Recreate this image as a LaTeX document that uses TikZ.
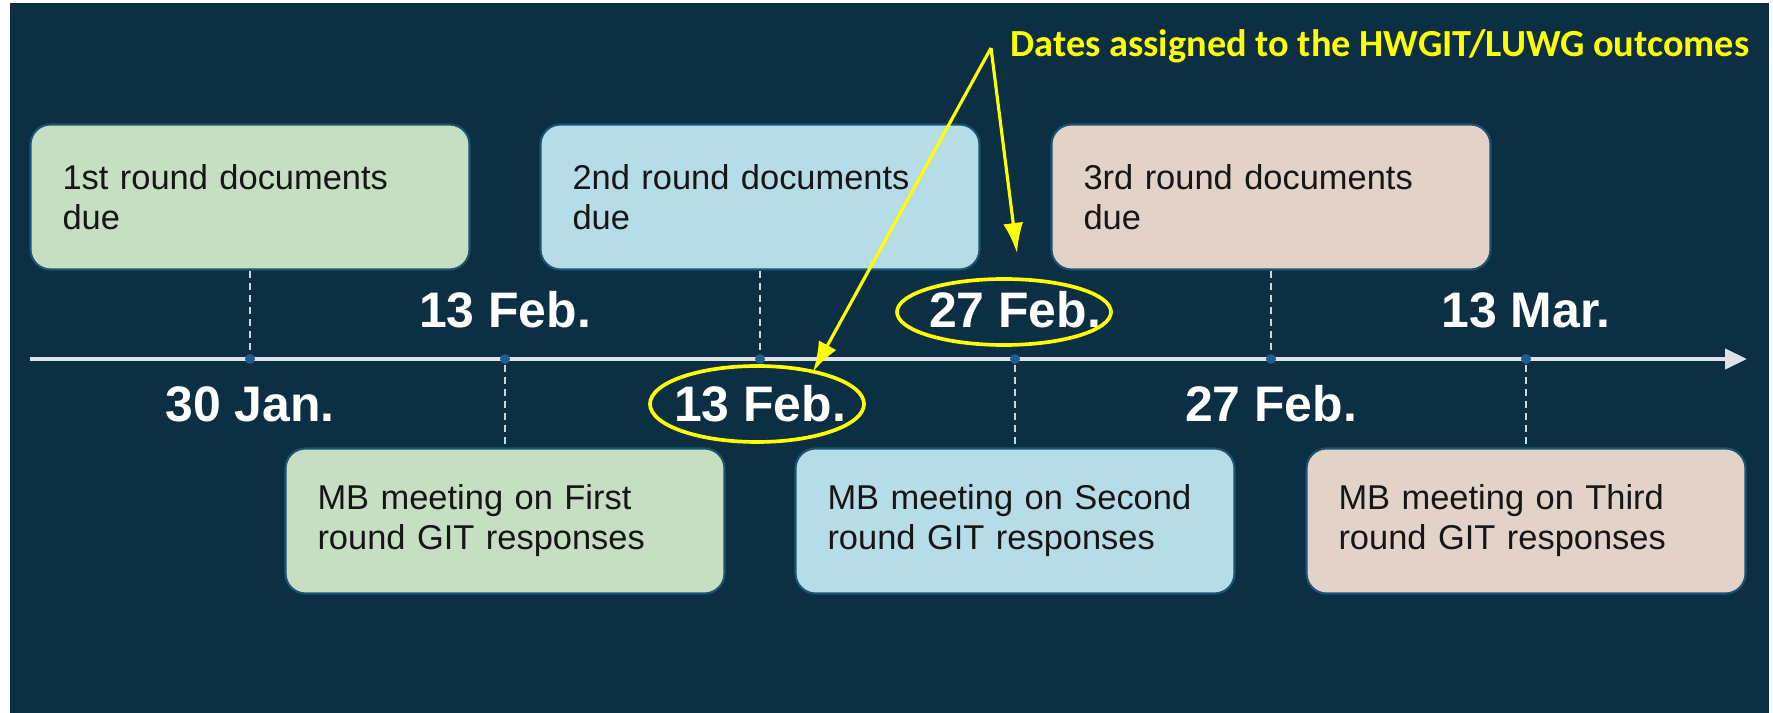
\documentclass[tikz,border=0pt]{standalone}
\usepackage{fontspec}
\setmainfont{Liberation Sans}
\newfontfamily\notefont{Carlito}
\usetikzlibrary{arrows.meta}
\usetikzlibrary{shapes.geometric}
\tikzset{>=latex}
\definecolor{navy}{HTML}{0C2F43}
\definecolor{boxedge}{HTML}{1C5573}
\definecolor{ink}{HTML}{161616}
\definecolor{greenbox}{HTML}{C6DFC3}
\definecolor{bluebox}{HTML}{B6DCE7}
\definecolor{sandbox}{HTML}{E2D2C7}
\definecolor{axisgray}{HTML}{DCE2E5}
\definecolor{tickblue}{HTML}{1F5F87}
\definecolor{stemgray}{HTML}{D0D6DA}
\definecolor{marker}{HTML}{FFFF00}

\begin{document}
\begin{tikzpicture}[x=0.1mm,y=-0.1mm,
    box/.style={draw=boxedge,line width=0.6pt,rounded corners=2mm,minimum height=14.5mm,
      text width=37.5mm,inner xsep=3.2mm,align=left,text=ink,
      font=\fontsize{9.8}{11.4}\selectfont},
    date/.style={text=white,font=\fontsize{14.2}{16}\selectfont\bfseries},
    tick/.style={circle,fill=tickblue,inner sep=0pt,minimum size=1mm},
    stem/.style={draw=stemgray,line width=0.45pt,dash pattern=on 0.7mm off 0.5mm},
    hilite/.style={ellipse,draw=marker,line width=1.05pt,outer sep=0pt},
    pointer/.style={draw=marker,line width=0.9pt,-{Latex[length=3mm,width=2mm]}}]
    \useasboundingbox (0,0) rectangle (1773,713);
    \fill[navy] (10,3) rectangle (1769,713);

    % time axis
    \coordinate (origin) at (30,359);
    \coordinate (axisend) at (1747,359);
    \draw[axisgray,line width=1.15pt,-{Triangle[length=2.2mm,width=2mm]}] (origin) -- (axisend);

    % documents due
    \node[box,fill=greenbox] (doc1) at (250,197) {1st round documents due};
    \node[box,fill=bluebox] (doc2) at (760,197) {2nd round documents due};
    \node[box,fill=sandbox] (doc3) at (1271,197) {3rd round documents due};

    % MB meetings
    \node[box,fill=greenbox] (mb1) at (505,521) {MB meeting on First round GIT responses};
    \node[box,fill=bluebox] (mb2) at (1015,521) {MB meeting on Second round GIT responses};
    \node[box,fill=sandbox] (mb3) at (1526,521) {MB meeting on Third round GIT responses};

    \node[tick] (t1) at (250,359) {};
    \node[tick] (t2) at (505,359) {};
    \node[tick] (t3) at (760,359) {};
    \node[tick] (t4) at (1015,359) {};
    \node[tick] (t5) at (1271,359) {};
    \node[tick] (t6) at (1526,359) {};

    \draw[stem] (doc1.south) -- (t1);
    \draw[stem] (doc2.south) -- (t3);
    \draw[stem] (doc3.south) -- (t5);
    \draw[stem] (t2) -- (mb1.north);
    \draw[stem] (t4) -- (mb2.north);
    \draw[stem] (t6) -- (mb3.north);

    % dates
    \node[date] (d1) at (250,404) {30 Jan.};
    \node[date] (d2) at (505,310) {13 Feb.};
    \node[date] (d3) at (760,404) {13 Feb.};
    \node[date] (d4) at (1015,310) {27 Feb.};
    \node[date] (d5) at (1271,404) {27 Feb.};
    \node[date] (d6) at (1526,310) {13 Mar.};

    % highlighted outcomes
    \node[hilite,minimum width=21.4mm,minimum height=6.6mm] (e1) at (1004,312) {};
    \node[hilite,minimum width=21.4mm,minimum height=7.6mm] (e2) at (757,404) {};
    \node[anchor=base west,inner sep=0pt,text=marker,font=\notefont\fontsize{10.9}{12}\selectfont\bfseries]
      (note) at (1010,57) {Dates assigned to the HWGIT/LUWG outcomes};
    \coordinate (apex) at (991,48);
    \coordinate (tip) at (1017,253);
    \draw[pointer] (apex) -- (e2.30);
    \draw[pointer] (apex) -- (tip);
\end{tikzpicture}
\end{document}
